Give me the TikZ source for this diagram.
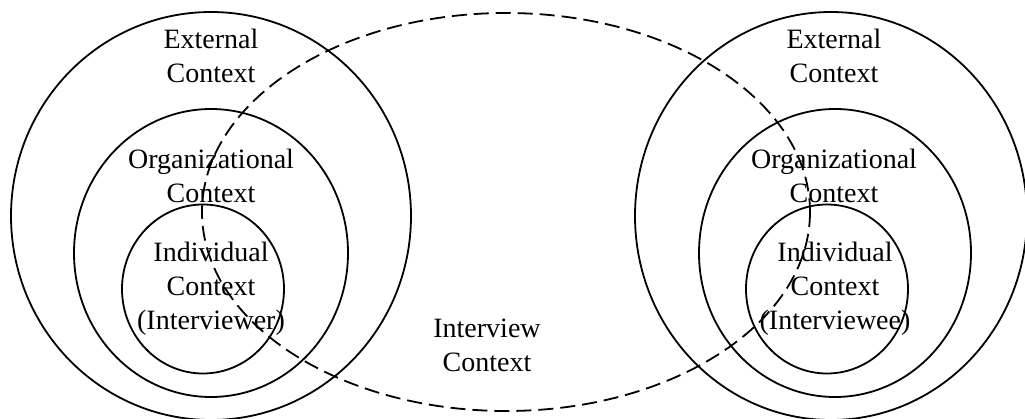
\documentclass[tikz,border=0pt]{standalone}
\usepackage{fontspec}
\setmainfont{Liberation Serif}
\begin{document}
\begin{tikzpicture}[x=1pt,y=-1pt,
  ring/.style={draw=black,line width=1.8pt},
  interview/.style={draw=black,line width=1.8pt,dash pattern=on 15pt off 7pt},
  label/.style={align=center,inner sep=0pt,font=\fontsize{28}{34}\selectfont}]
\useasboundingbox (0,0) rectangle (1025,419);
% interviewer side
\coordinate (lo) at (211,216);
\coordinate (lm) at (211,253);
\coordinate (li) at (203,289);
\draw[ring] (lo) ellipse [x radius=200,y radius=204];
\draw[ring] (lm) ellipse [x radius=137,y radius=144];
\draw[ring] (li) ellipse [x radius=81,y radius=84.5];
% interviewee side
\coordinate (ro) at (831,216);
\coordinate (rm) at (835,253);
\coordinate (ri) at (827,289);
\draw[ring] (ro) ellipse [x radius=196,y radius=204];
\draw[ring] (rm) ellipse [x radius=136,y radius=144];
\draw[ring] (ri) ellipse [x radius=81,y radius=84.5];
% shared interview context
\coordinate (ic) at (506,212);
\draw[interview] (ic) ellipse [x radius=304,y radius=199];
% labels
\node[label] (lext) at (211,56) {External\\Context};
\node[label] (lorg) at (211,176) {Organizational\\Context};
\node[label] (lind) at (211,289) {Individual\\Context\\(Interviewer)};
\node[label] (rext) at (834,56) {External\\Context};
\node[label] (rorg) at (834,176) {Organizational\\Context};
\node[label] (rind) at (835,289) {Individual\\Context\\(Interviewee)};
\node[label] (ictx) at (487,345) {Interview\\Context};
\end{tikzpicture}
\end{document}
